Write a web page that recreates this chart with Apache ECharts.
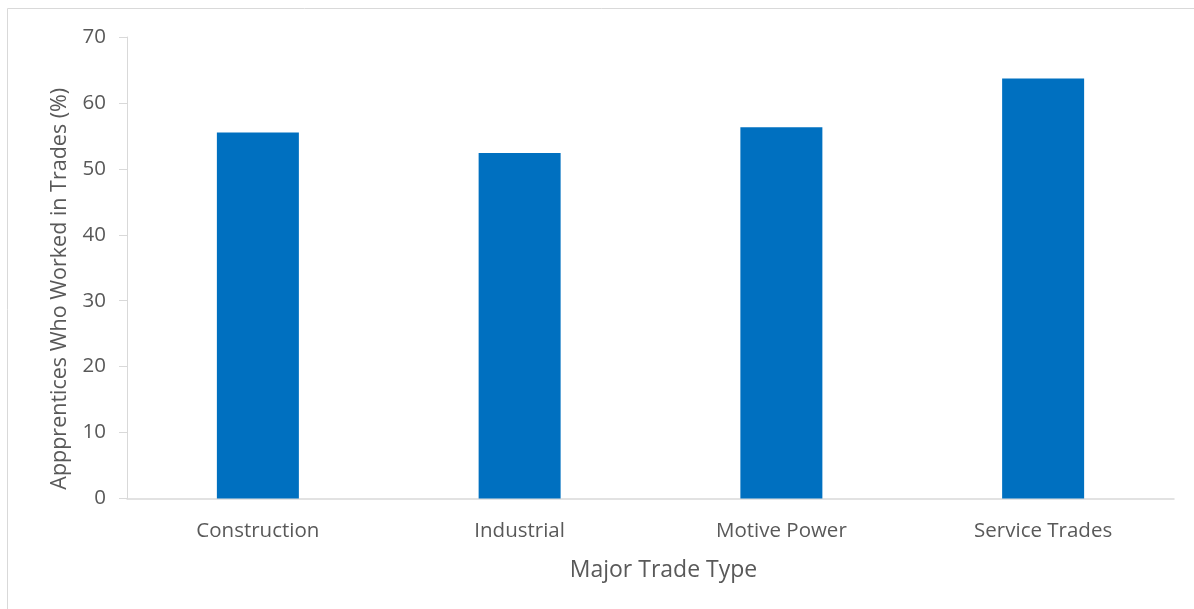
<!DOCTYPE html>
<html>
<head>
<meta charset="utf-8">
<script src="https://cdn.jsdelivr.net/npm/echarts@6/dist/echarts.min.js"></script>
<style>
html,body{margin:0;padding:0;background:#fff;}
#chart{width:1194px;height:609px;}
</style>
</head>
<body>
<div id="chart"></div>
<script>
const categories = ["Construction", "Industrial", "Motive Power", "Service Trades"];
const values = [55.5, 52.4, 56.3, 63.7];
const yTicks = [0, 10, 20, 30, 40, 50, 60, 70];

const chart = echarts.init(document.getElementById('chart'));
const font = "'Open Sans', 'Noto Sans', sans-serif";
chart.setOption({
  animation: false,
  graphic: [{
    type: 'rect',
    shape: {x: 7.5, y: 8.5, width: 1200, height: 620},
    style: {fill: 'none', stroke: '#d9d9d9', lineWidth: 1},
    silent: true
  }],
  grid: {left: 127, right: 20, top: 37, bottom: 110.5},
  xAxis: {
    type: 'category',
    data: categories,
    name: 'Major Trade Type',
    nameLocation: 'middle',
    nameGap: 60,
    nameTextStyle: {color: '#595959', fontSize: 23, fontFamily: font, padding: [0, 0, 0, 26]},
    axisLine: {lineStyle: {color: '#d9d9d9', width: 1.5}},
    axisTick: {show: false},
    axisLabel: {color: '#595959', fontSize: 20.5, fontFamily: font, margin: 22}
  },
  yAxis: {
    type: 'value',
    min: yTicks[0],
    max: yTicks[yTicks.length - 1],
    interval: 10,
    name: 'Appprentices Who Worked in Trades (%)',
    nameLocation: 'middle',
    nameGap: 56,
    nameTextStyle: {color: '#595959', fontSize: 21.5, fontFamily: font, padding: [0, 42, 0, 0]},
    axisLine: {show: true, lineStyle: {color: '#d9d9d9', width: 1}},
    axisTick: {show: true, length: 8, lineStyle: {color: '#d9d9d9'}},
    splitLine: {show: false},
    axisLabel: {color: '#595959', fontSize: 20.5, fontFamily: font, margin: 21}
  },
  series: [{
    type: 'bar',
    data: values,
    barWidth: 82,
    itemStyle: {color: '#0070C0'}
  }]
});
</script>
</body>
</html>
